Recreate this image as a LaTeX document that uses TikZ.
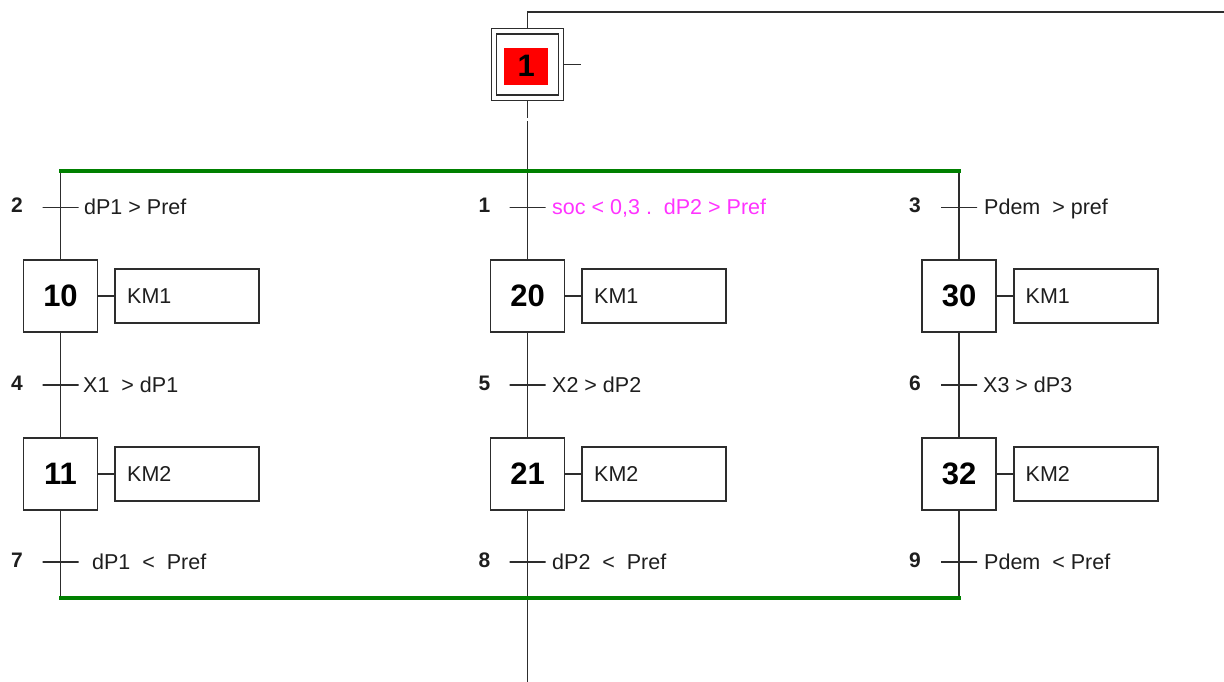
\documentclass[tikz,border=0pt]{standalone}
\usepackage{fontspec}
\setmainfont{Liberation Sans}
\definecolor{linec}{RGB}{45,45,45}
\definecolor{txt}{RGB}{30,30,30}
\definecolor{gline}{RGB}{0,128,0}
\definecolor{cond}{RGB}{255,51,255}
\begin{document}
\begin{tikzpicture}[x=1pt,y=-1pt,
  ln/.style={draw=linec, line width=1.6pt},
  grn/.style={draw=gline, line width=3.2pt, line cap=rect},
  stepbox/.style={draw=linec, line width=1.7pt, minimum width=74pt, minimum height=72pt,
    inner sep=0pt, text=black, font=\fontsize{31}{31}\selectfont\bfseries},
  actbox/.style={draw=linec, line width=1.7pt, minimum height=54pt, text width=120pt,
    inner xsep=12pt, inner ysep=0pt, align=left, text=txt, font=\fontsize{21.5}{22}\selectfont},
  trans/.style={draw=linec, line width=1.6pt, minimum width=36pt, minimum height=0pt,
    inner sep=0pt, outer sep=0pt},
  trnum/.style={anchor=base, inner sep=0pt, text=txt, font=\fontsize{21}{21}\selectfont\bfseries},
  trlab/.style={anchor=base west, inner sep=0pt, text=txt, font=\fontsize{21.5}{22}\selectfont},
]
\useasboundingbox (0,0) rectangle (1224,682);

% initial step
\node[draw=linec, line width=1.7pt, minimum width=72pt, minimum height=72pt, inner sep=0pt] (s1) at (527.5,64.5) {};
\node[draw=linec, line width=1.7pt, minimum width=62pt, minimum height=61pt, inner sep=0pt] (s1in) at (s1) {};
\node[fill=red, minimum width=44pt, minimum height=37pt, inner sep=0pt,
  font=\fontsize{31}{31}\selectfont\bfseries] (s1lab) at (526.3,66.3) {1};

\coordinate (topR) at (1224,12.3);
\coordinate (s1tick) at (580.7,64.5);
\coordinate (gapA) at (527.5,118);
\coordinate (gapB) at (527.5,121);
\coordinate (bot) at (527.5,682);

% divergence / convergence bars
\coordinate (gTL) at (60.5,171);
\coordinate (gTM) at (527.5,171);
\coordinate (gTR) at (959,171);
\coordinate (gBL) at (60.5,598);
\coordinate (gBM) at (527.5,598);
\coordinate (gBR) at (959,598);

% steps
\node[stepbox] (s10) at (60.5,296) {10};
\node[stepbox] (s11) at (60.5,474) {11};
\node[stepbox] (s20) at (527.5,296) {20};
\node[stepbox] (s21) at (527.5,474) {21};
\node[stepbox] (s30) at (959,296) {30};
\node[stepbox] (s32) at (959,474) {32};

% actions
\node[actbox, anchor=west] (a10) at ([xshift=16pt]s10.east) {KM1};
\node[actbox, anchor=west] (a11) at ([xshift=16pt]s11.east) {KM2};
\node[actbox, anchor=west] (a20) at ([xshift=16pt]s20.east) {KM1};
\node[actbox, anchor=west] (a21) at ([xshift=16pt]s21.east) {KM2};
\node[actbox, anchor=west] (a30) at ([xshift=16pt]s30.east) {KM1};
\node[actbox, anchor=west] (a32) at ([xshift=16pt]s32.east) {KM2};

% transitions
\node[trans] (t2) at (60.5,207.5) {};
\node[trans] (t4) at (60.5,385) {};
\node[trans] (t7) at (60.5,562) {};
\node[trans] (t1) at (527.5,207.5) {};
\node[trans] (t5) at (527.5,385) {};
\node[trans] (t8) at (527.5,562) {};
\node[trans] (t3) at (959,207.5) {};
\node[trans] (t6) at (959,385) {};
\node[trans] (t9) at (959,562) {};

% transition numbers
\node[trnum] (n2) at (17,212.5) {2};
\node[trnum] (n4) at (17,390) {4};
\node[trnum] (n7) at (17,567) {7};
\node[trnum] (n1) at (484.5,212.5) {1};
\node[trnum] (n5) at (484.5,390) {5};
\node[trnum] (n8) at (484.5,567) {8};
\node[trnum] (n3) at (915,212.5) {3};
\node[trnum] (n6) at (915,390) {6};
\node[trnum] (n9) at (915,567) {9};

% receptivities
\node[trlab] (r2) at (84,214.5) {dP1 > Pref};
\node[trlab] (r4) at (83,392) {X1\ \ > dP1};
\node[trlab] (r7) at (92,569) {dP1\ \ <\ \ Pref};
\node[trlab, text=cond] (r1) at (552,214.5) {soc < 0,3 .\ \ dP2 > Pref};
\node[trlab] (r5) at (552,392) {X2 > dP2};
\node[trlab] (r8) at (552,569) {dP2\ \ <\ \ Pref};
\node[trlab] (r3) at (984,214.5) {Pdem\ \ > pref};
\node[trlab] (r6) at (983,392) {X3 > dP3};
\node[trlab] (r9) at (984,569) {Pdem\ \ < Pref};

% links
\draw[ln] (s1.north) |- (topR);
\draw[ln] (s1.east) -- (s1tick);
\draw[ln] (s1.south) -- (gapA);
\draw[ln] (gapB) -- (t1) -- (s20) -- (t5) -- (s21) -- (t8) -- (bot);
\draw[ln] (gTL) -- (t2) -- (s10) -- (t4) -- (s11) -- (t7) -- (gBL);
\draw[ln] (gTR) -- (t3) -- (s30) -- (t6) -- (s32) -- (t9) -- (gBR);
\foreach \s in {10,11,20,21,30,32} \draw[ln] (s\s.east) -- (a\s.west);

% parallel branch bars
\draw[grn] (gTL) -- (gTR);
\draw[grn] (gBL) -- (gBR);
\end{tikzpicture}
\end{document}
